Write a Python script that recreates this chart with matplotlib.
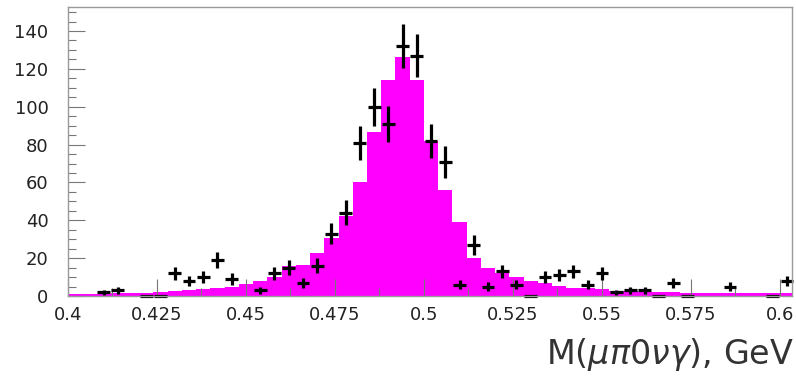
import numpy as np
import matplotlib
matplotlib.use('Agg')
import matplotlib.pyplot as plt
from matplotlib.ticker import MultipleLocator

# binning: 51 bins of 4 MeV starting at 0.4 GeV
bin_width = 0.004
bin_edges = 0.4 + bin_width*np.arange(52)
bin_centers = 0.5*(bin_edges[:-1] + bin_edges[1:])

# Monte Carlo expectation (magenta histogram)
mc_counts = [1.1, 1.2, 1.3, 1.4, 1.6, 1.8, 2.1, 2.5, 3.0, 3.5,
             4.2, 5.0, 6.5, 8.0, 10.0, 16.0, 16.5, 22.5, 30.5, 42.5,
             60.5, 86.5, 114.0, 126.5, 114.0, 82.0, 56.0, 39.0, 20.0, 15.0,
             12.0, 10.0, 8.0, 7.0, 5.5, 4.5, 4.0, 3.5, 2.8, 2.4,
             2.2, 2.0, 1.9, 1.8, 1.7, 1.6, 1.5, 1.5, 1.4, 1.4, 1.4]

# data events per bin (nan = nothing drawn)
nan = np.nan
data_counts = [nan, nan, 2, 3, nan, 0, 0, 12, 8, 10,
               19, 9, nan, 3, 12, 15, 7, 16, 33, 44,
               81, 100, 91, 132, 127, 82, 71, 6, 27, 5,
               13, 6, 0, 10, 11, 13, 6, 12, 2, 3,
               3, 0, 7, 0, nan, nan, 5, nan, nan, 0, 8]

x_title = r'M($\mu\pi$0$\nu\gamma$), GeV'

data_counts = np.array(data_counts, dtype=float)
data_err = np.sqrt(np.nan_to_num(data_counts))
good = ~np.isnan(data_counts)

fig = plt.figure(figsize=(7.96, 3.8), dpi=100)
ax = fig.add_axes([0.0854, 0.221, 0.9096, 0.7606])

ax.stairs(mc_counts, bin_edges, fill=True, color='#ff00ff', lw=0)
eb = ax.errorbar(bin_centers[good], data_counts[good], yerr=data_err[good],
                 xerr=0.0018, fmt='none', ecolor='black', elinewidth=2.3, capsize=0)
for coll in eb.lines[2]:
    coll.set_clip_on(False)  # zero bins sit right on the x axis

ax.set_xlim(0.4, 0.6034)
ax.set_ylim(0, 152.7)

ax.xaxis.set_minor_locator(MultipleLocator(0.0125))
ax.yaxis.set_major_locator(MultipleLocator(20))
ax.yaxis.set_minor_locator(MultipleLocator(5))
ax.set_xticks(np.arange(0.4, 0.6001, 0.025))
ax.set_xticklabels(['0.4', '0.425', '0.45', '0.475', '0.5', '0.525', '0.55', '0.575', '0.6'])

ax.tick_params(axis='both', which='both', direction='in', color='#777777',
               labelcolor='#222222', labelsize=13, width=0.8)
ax.tick_params(axis='both', which='major', length=12)
ax.tick_params(axis='both', which='minor', length=6)
ax.tick_params(axis='x', pad=7)
ax.tick_params(axis='y', pad=14)

for side in ['top', 'right', 'left', 'bottom']:
    ax.spines[side].set_color('#999999')
    ax.spines[side].set_linewidth(1.0)

fig.text(0.997, 0.042, x_title, ha='right', va='baseline', fontsize=24, color='#333333')

plt.savefig('out.png', dpi=100)
